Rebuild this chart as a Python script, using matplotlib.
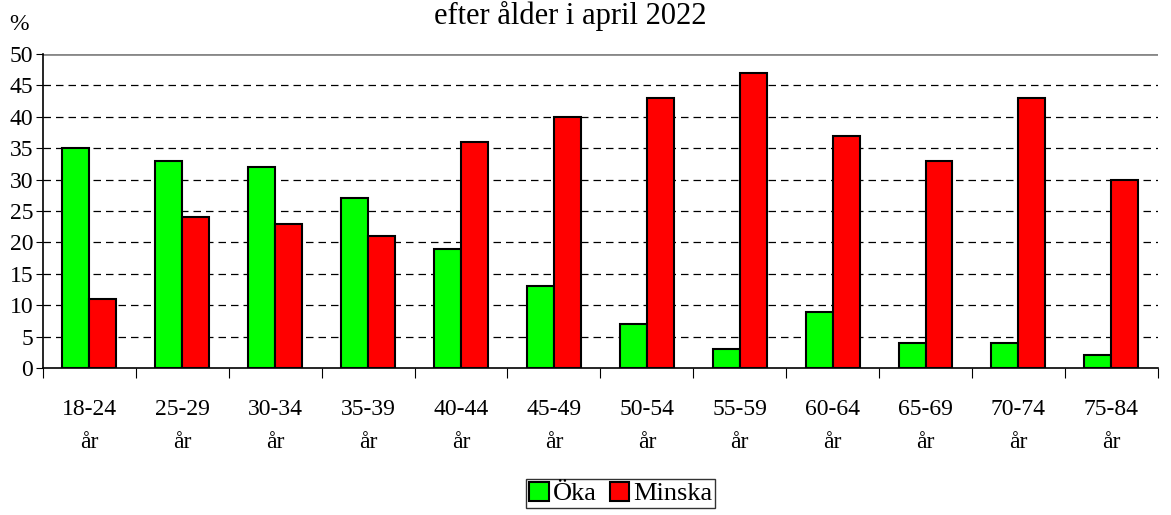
import matplotlib.pyplot as plt
import numpy as np

categories = ["18-24\når", "25-29\når", "30-34\når", "35-39\når", "40-44\når", "45-49\når",
              "50-54\når", "55-59\når", "60-64\når", "65-69\når", "70-74\når", "75-84\når"]
oka = [35, 33, 32, 27, 19, 13, 7, 3, 9, 4, 4, 2]
minska = [11, 24, 23, 21, 36, 40, 43, 47, 37, 33, 43, 30]

plt.rcParams['font.family'] = ['Liberation Serif', 'DejaVu Serif']
plt.rcParams['font.size'] = 17

fig = plt.figure(figsize=(11.71, 5.15), dpi=100)
ax = fig.add_axes([0.0367, 0.2854, 0.952, 0.6096])

x = np.arange(len(categories))
w = 0.29
ax.bar(x - w / 2, oka, w, color='#00ff00', edgecolor='black', linewidth=1.5, label='Öka', zorder=3)
ax.bar(x + w / 2, minska, w, color='#ff0000', edgecolor='black', linewidth=1.5, label='Minska', zorder=3)

ax.set_xlim(-0.5, len(categories) - 0.5)
ax.set_ylim(0, 50)
ax.set_yticks(range(0, 51, 5))
for v in range(5, 50, 5):
    ax.axhline(v, color='black', linestyle=(0, (6, 4)), linewidth=0.9, zorder=1)
ax.axhline(50, color='#888888', linewidth=2, zorder=1)

ax.set_xticks(np.arange(-0.5, len(categories), 1))
ax.set_xticklabels([])
ax.set_xticks(x, minor=True)
ax.set_xticklabels(categories, minor=True, linespacing=1.75)
ax.tick_params(axis='x', which='minor', length=0, pad=22)
ax.tick_params(axis='x', which='major', length=7, direction='out')
ax.tick_params(axis='y', length=5, direction='out', pad=2)

for s in ['top', 'right']:
    ax.spines[s].set_visible(False)
ax.spines['left'].set_linewidth(1.2)
ax.spines['bottom'].set_linewidth(1.2)

fig.text(0.008, 0.952, '%', fontsize=17, va='center')
fig.text(0.487, 0.998, 'efter ålder i april 2022', fontsize=22, ha='center', va='top')

leg = fig.legend(loc='upper center', bbox_to_anchor=(0.530, 0.070), ncol=2, frameon=True,
                 fancybox=False, edgecolor='black', handlelength=0.75, handleheight=0.75,
                 handletextpad=0.15, columnspacing=0.5, borderpad=0.1, borderaxespad=0,
                 fontsize=19)
leg.get_frame().set_linewidth(1)

fig.savefig('out.png', dpi=100)
